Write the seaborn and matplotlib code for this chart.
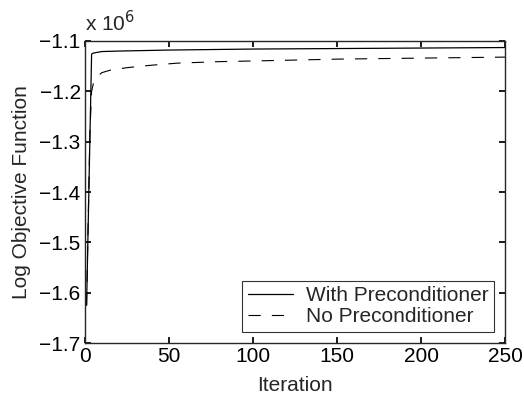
import numpy as np
import matplotlib
matplotlib.use("Agg")
import matplotlib.pyplot as plt
import seaborn as sns
import pandas as pd

# values (objective in units of 1e6)
iter_with = [1, 2, 3, 4, 5, 10, 20, 50, 100, 150, 200, 250]
obj_with = [-1.625, -1.46, -1.29, -1.126, -1.124, -1.121, -1.120, -1.118, -1.116, -1.115, -1.114, -1.113]

iter_no = [1, 2, 3, 4, 5, 7, 10, 15, 25, 40, 55, 80, 110, 150, 200, 250]
obj_no = [-1.625, -1.45, -1.28, -1.20, -1.185, -1.172, -1.163, -1.158, -1.153, -1.148, -1.144, -1.141, -1.139, -1.136, -1.134, -1.132]

x_ticks = [0, 50, 100, 150, 200, 250]
y_ticks = [-1.7, -1.6, -1.5, -1.4, -1.3, -1.2, -1.1]

sns.set_theme(style="ticks")
plt.rcParams['font.family'] = ['Liberation Sans', 'DejaVu Sans']
plt.rcParams['axes.linewidth'] = 1.0

df_with = pd.DataFrame({"Iteration": iter_with, "obj": obj_with})
df_no = pd.DataFrame({"Iteration": iter_no, "obj": obj_no})

fig = plt.figure(figsize=(5.24, 3.98), dpi=100)
ax = fig.add_axes([0.162, 0.138, 0.802, 0.759])

sns.lineplot(data=df_with, x="Iteration", y="obj", ax=ax, color="black",
             linewidth=0.9, label="With Preconditioner")
sns.lineplot(data=df_no, x="Iteration", y="obj", ax=ax, color="black",
             linewidth=0.8, linestyle=(0, (11, 10)), label="No Preconditioner")

fs = 15
ax.set_xlim(0, 250)
ax.set_ylim(-1.7, -1.1)
ax.set_xticks(x_ticks)
ax.set_yticks(y_ticks)
ax.set_yticklabels([f"\u2212{abs(v):.1f}" for v in y_ticks])
ax.tick_params(direction="in", top=True, right=True, labelsize=fs, length=4, pad=3, colors="black")
ax.set_xlabel("Iteration", fontsize=fs, labelpad=7)
ax.set_ylabel("Log Objective Function", fontsize=fs, labelpad=6)
ax.text(0.0, 1.02, r"x 10$^{6}$", transform=ax.transAxes, fontsize=fs, ha="left", va="bottom")

leg = ax.legend(loc="lower right", fontsize=fs, frameon=True, fancybox=False,
                edgecolor="black", borderpad=0.25, labelspacing=0.1, handlelength=2.2,
                handletextpad=0.6, borderaxespad=0.55)
leg.get_frame().set_linewidth(0.8)

fig.savefig("out.png", dpi=100)
